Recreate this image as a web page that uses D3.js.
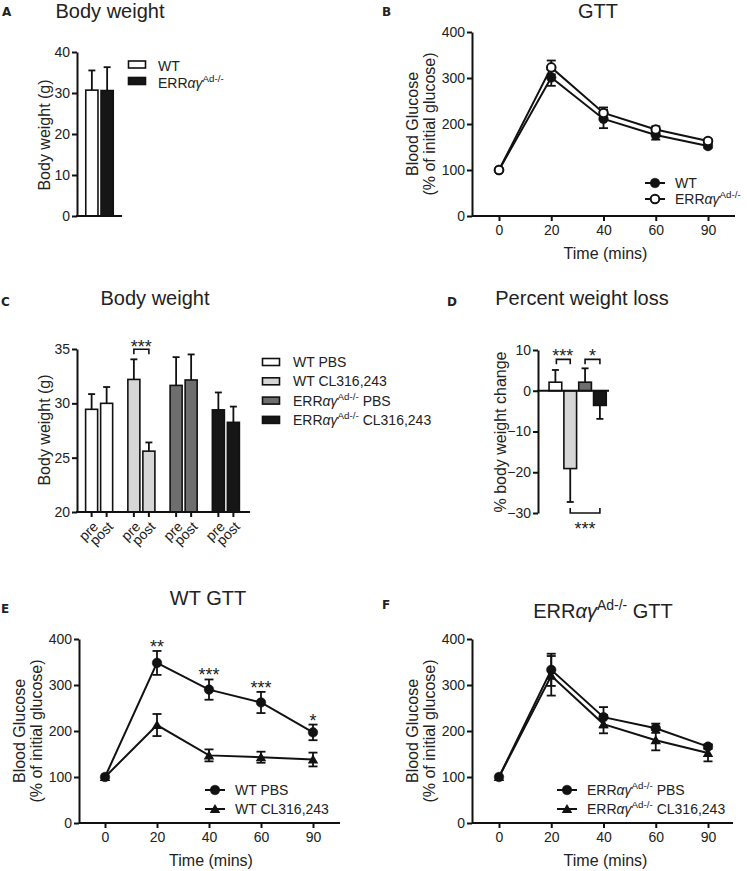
<!DOCTYPE html>
<html><head><meta charset="utf-8">
<script src="https://cdn.jsdelivr.net/npm/d3@7"></script>
<style>
body{margin:0;background:#fff}
svg text{font-family:"Liberation Sans",Arial,Helvetica,sans-serif;fill:#222}
</style></head><body>
<svg id="fig" width="747" height="871"></svg>
<script>
// ---------------- DATA ----------------
const catsA = ["WT", "ERRαγ^Ad-/-^"];
const meanA = [30.7, 30.6];
const errA = [4.8, 5.7];
const ticksA = [0, 10, 20, 30, 40];

const timeLabels = ["0", "20", "40", "60", "90"];
const gttTicks = [0, 100, 200, 300, 400];
const bWT = [100, 301, 211, 176, 152];
const bWTErr = [0, 18, 20, 10, 4];
const bKO = [100, 323, 224, 188, 163];
const bKOErr = [0, 15, 12, 7, 4];
const seriesB = ["WT", "ERRαγ^Ad-/-^"];

const groupsC = ["WT PBS", "WT CL316,243", "ERRαγ^Ad-/-^ PBS", "ERRαγ^Ad-/-^ CL316,243"];
const phasesC = ["pre", "post"];
const preC = [29.45, 32.2, 31.65, 29.4];
const preErrC = [1.4, 1.85, 2.6, 1.6];
const postC = [30.0, 25.6, 32.15, 28.25];
const postErrC = [1.5, 0.8, 2.35, 1.45];
const ticksC = [20, 25, 30, 35];

const pctD = [2.1, -19.1, 2.1, -3.6];
const pctErrD = [3.0, 8.2, 3.4, 3.3];
const ticksD = [-30, -20, -10, 0, 10];

const ePBS = [100, 348, 290, 262, 197];
const ePBSErr = [0, 26, 22, 23, 17];
const eCL = [100, 213, 147, 143, 138];
const eCLErr = [0, 24, 13, 12, 15];
const eStars = ["", "**", "***", "***", "*"];
const seriesE = ["WT PBS", "WT CL316,243"];

const fPBS = [100, 333, 230, 206, 166];
const fPBSErr = [0, 35, 22, 10, 5];
const fCL = [100, 320, 215, 180, 152];
const fCLErr = [0, 43, 20, 22, 18];
const seriesF = ["ERRαγ^Ad-/-^ PBS", "ERRαγ^Ad-/-^ CL316,243"];

// ---------------- HELPERS ----------------
const svg = d3.select("#fig");
const INK = "#111";
const groupFill = d3.scaleOrdinal().domain(groupsC).range(["#ffffff", "#d6d6d6", "#6e6e6e", "#161616"]);

function rich(sel, str, fs) {
  const parts = str.split("^");
  parts.forEach((p, i) => {
    if (!p) return;
    if (i % 2 === 1) {
      sel.append("tspan").text(p).attr("font-size", fs * 0.7).attr("dy", -fs * 0.42);
    } else {
      const sub = p.split(/(αγ)/).filter(s => s.length);
      sub.forEach((q, j) => {
        const t = sel.append("tspan").text(q);
        if (q === "αγ") t.attr("font-style", "italic");
        if (j === 0 && i > 0) t.attr("dy", fs * 0.42);
      });
    }
  });
  return sel;
}
function text(x, y, str, fs, anchor) {
  const t = svg.append("text").attr("x", x).attr("y", y).attr("font-size", fs)
    .attr("text-anchor", anchor || "start");
  return rich(t, str, fs);
}
function panelLabel(x, y, s) {
  svg.append("text").attr("x", x).attr("y", y).attr("font-size", 12).attr("font-weight", "bold")
    .style("font-family", "'DejaVu Sans',sans-serif").attr("fill", "#111").text(s);
}
function styleAxis(g) {
  g.attr("font-family", null).attr("font-size", 14);
  g.select(".domain").attr("stroke-width", 2).attr("stroke", INK);
  g.selectAll(".tick line").attr("stroke-width", 2).attr("stroke", INK);
  g.selectAll(".tick text").attr("fill", "#222").style("font-family", "'Liberation Sans',Arial,sans-serif");
}
function yAxis(scale, ticks, x) {
  const g = svg.append("g").attr("transform", `translate(${x},0)`)
    .call(d3.axisLeft(scale).tickValues(ticks).tickSize(5).tickPadding(2).tickSizeOuter(0));
  styleAxis(g);
  return g;
}
function hLine(x1, x2, y) {
  svg.append("line").attr("x1", x1).attr("x2", x2).attr("y1", y).attr("y2", y)
    .attr("stroke", INK).attr("stroke-width", 2);
}
function yTitle(cx, cy, lines, fs) {
  lines.forEach((s, i) => {
    svg.append("text").attr("transform", `translate(${cx[i]},${cy}) rotate(-90)`)
      .attr("text-anchor", "middle").attr("dy", "0.35em").attr("font-size", fs).text(s);
  });
}
function errLine(g, x, ya, yb, hw, capA) {
  g.append("line").attr("x1", x).attr("x2", x).attr("y1", ya).attr("y2", yb)
    .attr("stroke", INK).attr("stroke-width", 1.8);
  g.append("line").attr("x1", x - hw).attr("x2", x + hw).attr("y1", yb).attr("y2", yb)
    .attr("stroke", INK).attr("stroke-width", 1.8);
  if (capA) g.append("line").attr("x1", x - hw).attr("x2", x + hw).attr("y1", ya).attr("y2", ya)
    .attr("stroke", INK).attr("stroke-width", 1.8);
}
function bracket(x1, x2, y, dir) {
  svg.append("path").attr("d", `M${x1},${y + dir * 5}V${y}H${x2}V${y + dir * 5}`)
    .attr("fill", "none").attr("stroke", INK).attr("stroke-width", 1.6);
}
function stars(x, y, s) {
  svg.append("text").attr("x", x).attr("y", y).attr("text-anchor", "middle")
    .attr("font-size", 18).text(s);
}
function marker(g, type, x, y) {
  if (type === "triangle") {
    g.append("path").attr("d", d3.symbol(d3.symbolTriangle, 48)()).attr("transform", `translate(${x},${y + 1})`)
      .attr("fill", INK);
  } else {
    g.append("circle").attr("cx", x).attr("cy", y).attr("r", type === "open" ? 4.3 : 4.8)
      .attr("fill", type === "open" ? "#fff" : INK).attr("stroke", INK).attr("stroke-width", type === "open" ? 2 : 0.5);
  }
}

// ---------------- LINE PLOT ----------------
function linePlot(o) {
  const x = d3.scalePoint().domain(timeLabels).range(o.xr);
  const y = d3.scaleLinear().domain([0, 400]).range([o.y0, o.y1]);
  const g = svg.append("g");
  o.series.forEach(s => {
    const pts = s.v.map((v, i) => [x(timeLabels[i]), y(v)]);
    g.append("path").attr("d", d3.line()(pts)).attr("fill", "none").attr("stroke", INK).attr("stroke-width", 2);
  });
  o.series.forEach(s => {
    s.v.forEach((v, i) => {
      if (s.e[i] > 0) errLine(g, x(timeLabels[i]), y(v - s.e[i]), y(v + s.e[i]), 4.5, true);
    });
  });
  o.series.forEach(s => s.v.forEach((v, i) => marker(g, s.type, x(timeLabels[i]), y(v))));
  yAxis(y, gttTicks, o.ax);
  const gx = svg.append("g").attr("transform", `translate(0,${o.y0})`)
    .call(d3.axisBottom(x).tickSize(5).tickPadding(4).tickSizeOuter(0));
  styleAxis(gx);
  gx.select(".domain").remove();
  hLine(o.ax, o.axEnd, o.y0);
  svg.append("text").attr("x", (x.range()[0] + x.range()[1]) / 2 + 2).attr("y", o.y0 + 43)
    .attr("text-anchor", "middle").attr("font-size", 16).text("Time (mins)");
  yTitle([o.ax - 60, o.ax - 43], (o.y0 + o.y1) / 2, ["Blood Glucose", "(% of initial glucose)"], 16);
  o.series.forEach((s, i) => {
    const ly = o.leg[1] + i * o.legStep;
    const lg = svg.append("g");
    lg.append("line").attr("x1", o.leg[0] - 10).attr("x2", o.leg[0] + 10).attr("y1", ly).attr("y2", ly)
      .attr("stroke", INK).attr("stroke-width", 2);
    marker(lg, s.type, o.leg[0], ly);
    text(o.leg[0] + 20, ly + 5, s.name, 14);
  });
  return { x, y };
}

// ---------------- PANEL A ----------------
panelLabel(2, 16, "A");
text(110, 18, "Body weight", 20, "middle");
{
  const y = d3.scaleLinear().domain([0, 40]).range([216, 52]);
  const x = d3.scaleBand().domain(catsA).range([85, 114]).paddingInner(0.2).paddingOuter(0.05);
  const fills = ["#ffffff", "#161616"];
  const g = svg.append("g");
  catsA.forEach((c, i) => {
    errLine(g, x(c) + x.bandwidth() / 2, y(meanA[i]), y(meanA[i] + errA[i]), 3.5, false);
  });
  g.selectAll("rect").data(catsA).join("rect")
    .attr("x", d => x(d)).attr("y", (d, i) => y(meanA[i])).attr("width", x.bandwidth())
    .attr("height", (d, i) => y(0) - y(meanA[i])).attr("fill", (d, i) => fills[i])
    .attr("stroke", INK).attr("stroke-width", 1.6);
  yAxis(y, ticksA, 77);
  hLine(76, 122, y(0));
  yTitle([44], 135, ["Body weight (g)"], 16);
  catsA.forEach((c, i) => {
    svg.append("rect").attr("x", 128.5).attr("y", 61 + i * 16.5).attr("width", 17).attr("height", 7)
      .attr("fill", fills[i]).attr("stroke", INK).attr("stroke-width", 1.6);
    text(158, 71 + i * 17, c, 14);
  });
}

// ---------------- PANEL B ----------------
panelLabel(382, 16, "B");
text(598, 18, "GTT", 20, "middle");
linePlot({
  xr: [499, 708], y0: 216, y1: 32, ax: 472, axEnd: 735, leg: [655, 183], legStep: 16,
  series: [
    { v: bWT, e: bWTErr, type: "circle", name: seriesB[0] },
    { v: bKO, e: bKOErr, type: "open", name: seriesB[1] }
  ]
});

// ---------------- PANEL C ----------------
panelLabel(1, 306, "C");
text(155, 305, "Body weight", 20, "middle");
{
  const y = d3.scaleLinear().domain([20, 35]).range([512, 349]);
  const x0 = d3.scaleBand().domain(groupsC).range([78, 247]).paddingInner(0.36).paddingOuter(0.18);
  const x1 = d3.scaleBand().domain(phasesC).range([0, x0.bandwidth()]).paddingInner(0.2);
  const bars = [];
  groupsC.forEach((grp, gi) => {
    bars.push({ grp, ph: "pre", v: preC[gi], e: preErrC[gi] });
    bars.push({ grp, ph: "post", v: postC[gi], e: postErrC[gi] });
  });
  const cx = d => x0(d.grp) + x1(d.ph) + x1.bandwidth() / 2;
  const g = svg.append("g");
  bars.forEach(d => errLine(g, cx(d), y(d.v), y(d.v + d.e), 3.5, false));
  g.selectAll("rect").data(bars).join("rect")
    .attr("x", d => x0(d.grp) + x1(d.ph)).attr("y", d => y(d.v)).attr("width", x1.bandwidth())
    .attr("height", d => y(20) - y(d.v)).attr("fill", d => groupFill(d.grp))
    .attr("stroke", INK).attr("stroke-width", 1.6);
  yAxis(y, ticksC, 77);
  hLine(76, 250, y(20));
  bars.forEach(d => {
    svg.append("line").attr("x1", cx(d)).attr("x2", cx(d)).attr("y1", y(20)).attr("y2", y(20) + 5)
      .attr("stroke", INK).attr("stroke-width", 2);
    svg.append("text").attr("transform", `translate(${cx(d) + 4},${y(20) + 12}) rotate(-45)`)
      .attr("text-anchor", "end").attr("dy", "0.35em").attr("font-size", 14).text(d.ph);
  });
  const b1 = bars[2], b2 = bars[3];
  const by = y(Math.max(b1.v + b1.e, b2.v + b2.e)) - 10;
  bracket(cx(b1), cx(b2), by, 1);
  stars((cx(b1) + cx(b2)) / 2, by + 4, "***");
  yTitle([44], 430, ["Body weight (g)"], 16);
  groupsC.forEach((grp, i) => {
    const ly = 362 + i * 19.3;
    svg.append("rect").attr("x", 262.5).attr("y", ly - 3.5).attr("width", 17).attr("height", 7)
      .attr("fill", groupFill(grp)).attr("stroke", INK).attr("stroke-width", 1.6);
    text(293, ly + 5, grp, 14);
  });
}

// ---------------- PANEL D ----------------
panelLabel(447, 306, "D");
text(582, 305, "Percent weight loss", 20, "middle");
{
  const y = d3.scaleLinear().domain([-30, 10]).range([513, 350]);
  const x = d3.scaleBand().domain(groupsC).range([544.6, 610.7]).paddingInner(0.144).paddingOuter(0.3);
  const g = svg.append("g");
  const cx = d => x(d) + x.bandwidth() / 2;
  groupsC.forEach((grp, i) => {
    const v = pctD[i], e = pctErrD[i] * Math.sign(v);
    errLine(g, cx(grp), y(v), y(v + e), 3.5, false);
  });
  g.selectAll("rect").data(groupsC).join("rect")
    .attr("x", d => x(d)).attr("y", (d, i) => y(Math.max(0, pctD[i])))
    .attr("width", x.bandwidth()).attr("height", (d, i) => Math.abs(y(pctD[i]) - y(0)))
    .attr("fill", d => groupFill(d)).attr("stroke", INK).attr("stroke-width", 1.6);
  yAxis(y, ticksD, 538);
  hLine(537, 609, y(0));
  yTitle([500], 432, ["% body weight change"], 16);
  const topY = y(Math.max(pctD[0] + pctErrD[0], pctD[2] + pctErrD[2])) - 9;
  bracket(cx(groupsC[0]) + 1, cx(groupsC[1]), topY, 1);
  stars((cx(groupsC[0]) + cx(groupsC[1])) / 2, topY + 3, "***");
  bracket(cx(groupsC[2]), cx(groupsC[3]), topY, 1);
  stars((cx(groupsC[2]) + cx(groupsC[3])) / 2, topY + 3, "*");
  const botY = y(pctD[1] - pctErrD[1]) + 11;
  bracket(cx(groupsC[1]), cx(groupsC[3]), botY, -1);
  stars((cx(groupsC[1]) + cx(groupsC[3])) / 2, botY + 22, "***");
}

// ---------------- PANEL E ----------------
panelLabel(1, 613, "E");
text(208, 605, "WT GTT", 20, "middle");
{
  const s = linePlot({
    xr: [105, 313], y0: 823, y1: 639, ax: 79, axEnd: 340, leg: [215, 790], legStep: 19,
    series: [
      { v: ePBS, e: ePBSErr, type: "circle", name: seriesE[0] },
      { v: eCL, e: eCLErr, type: "triangle", name: seriesE[1] }
    ]
  });
  eStars.forEach((st, i) => {
    if (st) stars(s.x(timeLabels[i]), s.y(ePBS[i] + ePBSErr[i]) + 2, st);
  });
}

// ---------------- PANEL F ----------------
panelLabel(382, 609, "F");
text(603, 618, "ERRαγ^Ad-/-^ GTT", 20, "middle");
linePlot({
  xr: [499, 708], y0: 823, y1: 639, ax: 472, axEnd: 733, leg: [567, 790], legStep: 19,
  series: [
    { v: fPBS, e: fPBSErr, type: "circle", name: seriesF[0] },
    { v: fCL, e: fCLErr, type: "triangle", name: seriesF[1] }
  ]
});
</script>
</body></html>
